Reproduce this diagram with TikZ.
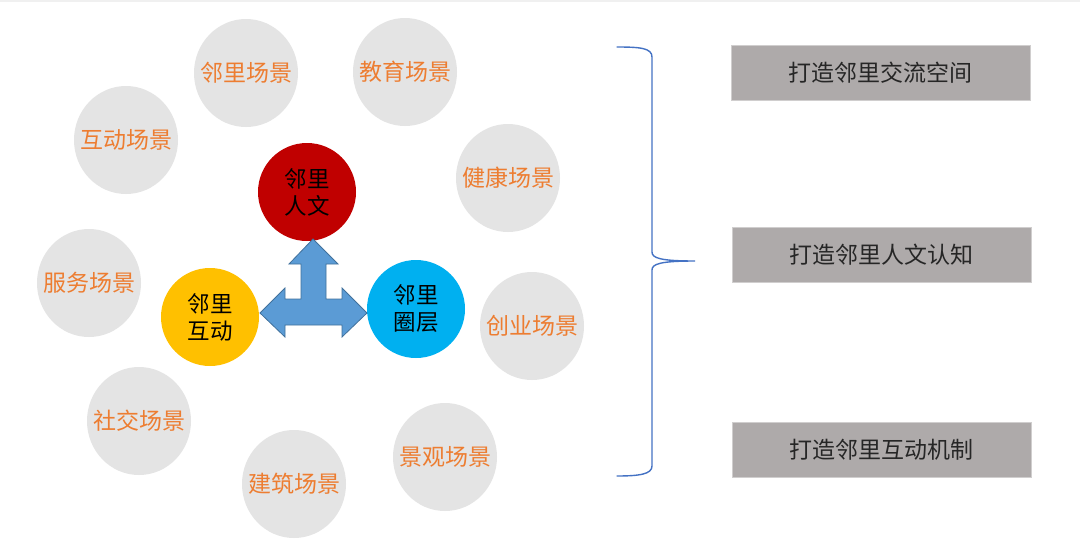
\documentclass[tikz,border=0pt]{standalone}
\usepackage{fontspec}
\setmainfont{Liberation Sans}
\newfontfamily\cjk{Noto Sans CJK SC}
\definecolor{scene}{HTML}{E4E4E4}
\definecolor{scenetxt}{HTML}{ED7D31}
\definecolor{redc}{HTML}{C00000}
\definecolor{yelc}{HTML}{FFC000}
\definecolor{bluc}{HTML}{00B0F0}
\definecolor{arrowf}{HTML}{5B9BD5}
\definecolor{arrowd}{HTML}{41719C}
\definecolor{bracec}{HTML}{4472C4}
\definecolor{boxf}{HTML}{AEAAAA}
\definecolor{boxd}{HTML}{D0CECE}
\usetikzlibrary{shapes.geometric}
\tikzset{
  scenenode/.style={ellipse, fill=scene, minimum width=104pt, minimum height=108pt, inner sep=0pt},
  scenetext/.style={inner sep=0pt, text=scenetxt, font=\cjk\fontsize{23}{26}\selectfont},
  corenode/.style={circle, minimum size=98pt, inner sep=0pt, align=center,
    font=\cjk\fontsize{22.5}{27}\selectfont, text=black},
  goalbox/.style={rectangle, fill=boxf, draw=boxd, line width=0.8pt, minimum width=299pt, minimum height=55pt,
    inner sep=0pt, font=\cjk\fontsize{23}{26}\selectfont, text=black!85},
}
\begin{document}
\begin{tikzpicture}[x=1pt,y=-1pt]
\useasboundingbox (0,0) rectangle (1080,552);
\fill[white] (0,0) rectangle (1080,552);
\fill[black!6] (0,0) rectangle (1080,2);
% scenes
\node[scenenode] (s1) at (246,73) {};
\node[scenenode] (s2) at (405,72) {};
\node[scenenode] (s3) at (126,140) {};
\node[scenenode] (s4) at (508,178) {};
\node[scenenode] (s5) at (89,283) {};
\node[scenenode] (s6) at (532,326) {};
\node[scenenode] (s7) at (139,421) {};
\node[scenenode] (s8) at (445,457) {};
\node[scenenode] (s9) at (294,484) {};
\node[scenetext] (t1) at (s1) {邻里场景};
\node[scenetext] (t2) at (s2) {教育场景};
\node[scenetext] (t3) at (s3) {互动场景};
\node[scenetext] (t4) at (s4) {健康场景};
\node[scenetext] (t5) at (s5) {服务场景};
\node[scenetext] (t6) at (s6) {创业场景};
\node[scenetext] (t7) at (s7) {社交场景};
\node[scenetext] (t8) at (s8) {景观场景};
\node[scenetext] (t9) at (s9) {建筑场景};
% core circles
\node[corenode, fill=redc] (c1) at (307,192) {邻里\\人文};
\node[corenode, fill=yelc] (c2) at (210,317) {邻里\\互动};
\node[corenode, fill=bluc] (c3) at (416,309) {邻里\\圈层};
% three-way arrow
\draw[fill=arrowf, draw=arrowd, line width=0.8pt, line join=miter]
  (313,239) -- (338,264) -- (326,264) -- (326,299) -- (342,299) -- (342,288) -- (367,313)
  -- (342,337) -- (342,325) -- (285,325) -- (285,337) -- (260,313) -- (285,288) -- (285,299)
  -- (301,299) -- (301,264) -- (289,264) -- cycle;
% brace
\draw[bracec, line width=1.4pt, line cap=round]
  (617,47) .. controls (640,47) and (652,48) .. (652,57)
  -- (652,252) .. controls (652,258) and (660,261) .. (695,261)
  .. controls (660,261) and (652,264) .. (652,270)
  -- (652,466) .. controls (652,474) and (640,476) .. (617,476);
% goal boxes
\node[goalbox] (g1) at (880.5,73) {打造邻里交流空间};
\node[goalbox] (g2) at (881.5,255) {打造邻里人文认知};
\node[goalbox] (g3) at (881.5,450) {打造邻里互动机制};
\end{tikzpicture}
\end{document}
